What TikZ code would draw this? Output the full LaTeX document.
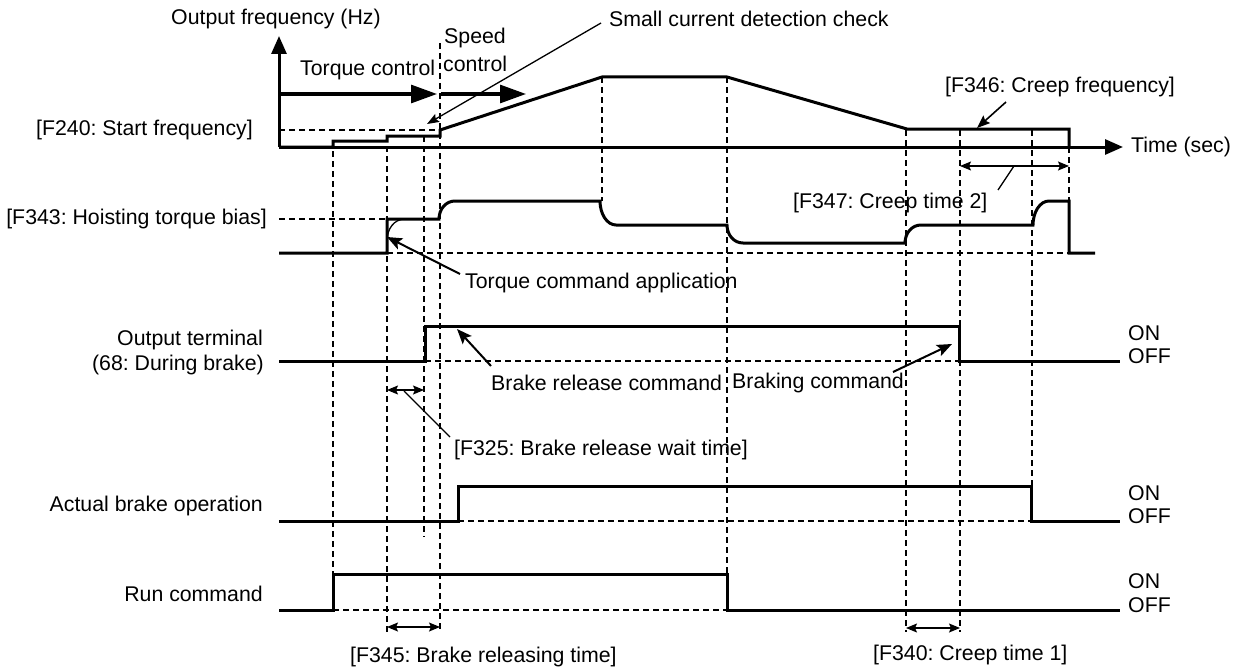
\documentclass[tikz,border=0pt]{standalone}
\usepackage{fontspec}
\setmainfont{Liberation Sans}
\usetikzlibrary{arrows.meta}
\frenchspacing
\begin{document}
\begin{tikzpicture}[x=1pt,y=-1pt,
  sig/.style={line width=3pt, line join=miter},
  guide/.style={line width=1.2pt, dash pattern=on 6pt off 4pt},
  thinline/.style={line width=1.3pt},
  lbl/.style={font=\fontsize{21.3}{25}\selectfont, inner sep=0pt},
  pointer/.style={line width=2pt, -{Stealth[length=15pt,width=12pt,inset=3pt]}},
  smallpointer/.style={line width=1.3pt, -{Stealth[length=12pt,width=9pt,inset=2pt]}},
  span/.style={line width=1.3pt, {Stealth[length=11pt,width=9pt,inset=2pt]}-{Stealth[length=11pt,width=9pt,inset=2pt]}},
  bigarrow/.style={line width=3pt, -{Triangle[length=26pt,width=18pt]}},
  axisarrow/.style={line width=3pt, -{Triangle[length=18pt,width=15pt]}},
]
\useasboundingbox (0,0) rectangle (1240,669);

% ---------- vertical timing guides ----------
\draw[guide] (333,141) -- (333,574);
\draw[guide] (387,136) -- (387,632);
\draw[guide] (424,136) -- (424,537);
\draw[guide] (440,43)  -- (440,632);
\draw[guide] (602,77)  -- (602,201);
\draw[guide] (727,77)  -- (727,574);
\draw[guide] (906,130) -- (906,632);
\draw[guide] (960,130) -- (960,632);
\draw[guide] (1032,130) -- (1032,486);
\draw[guide] (1069,147) -- (1069,201);

% ---------- horizontal reference guides ----------
\draw[guide] (279,130) -- (440,130);
\draw[guide] (279,219) -- (387,219);
\draw[guide] (387,253) -- (1069,253);
\draw[guide] (425,361) -- (959,361);
\draw[guide] (458,521) -- (1031,521);
\draw[guide] (333,610) -- (727,610);

% ---------- output frequency ----------
\coordinate (origin) at (279,147);
\coordinate (ytip) at (279,36);
\coordinate (ttip) at (1123,147);
\draw[axisarrow] (origin) -- (ytip);
\draw[axisarrow] (origin) -- (ttip);
\draw[sig] (279,147) -- (333,147) -- (333,141) -- (387,141) -- (387,136)
  -- (440,136) -- (440,130) -- (602,77) -- (727,77) -- (907,129)
  -- (1069,129) -- (1069,147);

% control mode arrows
\coordinate (tq0) at (279,94);
\coordinate (tq1) at (437,94);
\coordinate (sp0) at (441,94);
\coordinate (sp1) at (526,94);
\draw[bigarrow] (tq0) -- (tq1);
\draw[bigarrow] (sp0) -- (sp1);

% ---------- torque ----------
\draw[sig] (279,253) -- (387,253) -- (387,219) -- (439,219)
  .. controls (439,209) and (446,201) .. (455,201) -- (600,201)
  .. controls (600,214) and (607,225) .. (616,225) -- (727,225)
  .. controls (727,235) and (734,243) .. (743,243) -- (905,243)
  .. controls (905,233) and (912,225) .. (921,225) -- (1033,225)
  .. controls (1033,212) and (1040,201) .. (1049,201) -- (1069,201)
  -- (1069,253) -- (1095,253);
\draw[thinline] (387,241) .. controls (387,229) and (394,219) .. (405,219);

% ---------- output terminal ----------
\draw[sig] (279,361) -- (425,361) -- (425,326) -- (959,326) -- (959,361) -- (1120,361);
% ---------- actual brake ----------
\draw[sig] (279,521) -- (458,521) -- (458,486) -- (1031,486) -- (1031,521) -- (1120,521);
% ---------- run command ----------
\draw[sig] (279,610) -- (333,610) -- (333,574) -- (727,574) -- (727,610) -- (1120,610);

% ---------- texts ----------
\node[lbl, anchor=west] (yl) at (171,19) {Output frequency (Hz)};
\node[lbl, anchor=west] (scd) at (609,19) {Small current detection check};
\node[lbl, anchor=west] (spd1) at (444,38) {Speed};
\node[lbl, anchor=west] (spd2) at (443,64) {control};
\node[lbl, anchor=west] (tqc) at (300,70) {Torque control};
\node[lbl, anchor=east] (f240) at (253,130) {[F240: Start frequency]};
\node[lbl, anchor=west] (f346) at (945,87) {[F346: Creep frequency]};
\node[lbl, anchor=west] (tl) at (1131,147) {Time (sec)};
\node[lbl, anchor=west] (f347) at (793,203) {[F347: Creep time 2]};
\node[lbl, anchor=east] (f343) at (267,219) {[F343: Hoisting torque bias]};
\node[lbl, anchor=west] (tca) at (465,283) {Torque command application};
\node[lbl, anchor=east] (ot1) at (263,340) {Output terminal};
\node[lbl, anchor=east] (ot2) at (264,365) {(68: During brake)};
\node[lbl, anchor=west] (brc) at (491,383) {Brake release command};
\node[lbl, anchor=west] (bkc) at (732,383) {Braking command};
\node[lbl, anchor=west] (f325) at (454,450) {[F325: Brake release wait time]};
\node[lbl, anchor=east] (abo) at (263,506) {Actual brake operation};
\node[lbl, anchor=east] (run) at (263,594) {Run command};
\node[lbl, anchor=west] (on1) at (1128,333) {ON};
\node[lbl, anchor=west] (off1) at (1128,356) {OFF};
\node[lbl, anchor=west] (on2) at (1128,493) {ON};
\node[lbl, anchor=west] (off2) at (1128,516) {OFF};
\node[lbl, anchor=west] (on3) at (1128,581) {ON};
\node[lbl, anchor=west] (off3) at (1128,605) {OFF};
\node[lbl, anchor=west] (f345) at (350,657) {[F345: Brake releasing time]};
\node[lbl, anchor=west] (f340) at (873,655) {[F340: Creep time 1]};

% ---------- pointers ----------
\coordinate (scdA) at (601,23);
\coordinate (scdB) at (427,124);
\draw[smallpointer] (scdA) -- (scdB);
\coordinate (f346A) at (1006,102);
\coordinate (f346B) at (977,128);
\draw[line width=1.6pt, -{Stealth[length=13pt,width=10pt,inset=2pt]}] (f346A) -- (f346B);
\coordinate (tcaA) at (460,274);
\coordinate (tcaB) at (387,237);
\draw[pointer] (tcaA) -- (tcaB);
\coordinate (brcA) at (491,366);
\coordinate (brcB) at (457,329);
\draw[pointer] (brcA) -- (brcB);
\coordinate (bkcA) at (893,372);
\coordinate (bkcB) at (952,344);
\draw[pointer] (bkcA) -- (bkcB);

% ---------- time spans ----------
\coordinate (s347a) at (960,166);
\coordinate (s347b) at (1069,166);
\draw[span] (s347a) -- (s347b);
\coordinate (l347a) at (1014,166);
\coordinate (l347b) at (998,190);
\draw[thinline] (l347a) -- (l347b);
\coordinate (s325a) at (387,390);
\coordinate (s325b) at (424,390);
\draw[span] (s325a) -- (s325b);
\coordinate (l325a) at (404,391);
\coordinate (l325b) at (450,437);
\draw[thinline] (l325a) -- (l325b);
\coordinate (s345a) at (387,627);
\coordinate (s345b) at (440,627);
\draw[span] (s345a) -- (s345b);
\coordinate (s340a) at (906,628);
\coordinate (s340b) at (960,628);
\draw[span] (s340a) -- (s340b);
\end{tikzpicture}
\end{document}
